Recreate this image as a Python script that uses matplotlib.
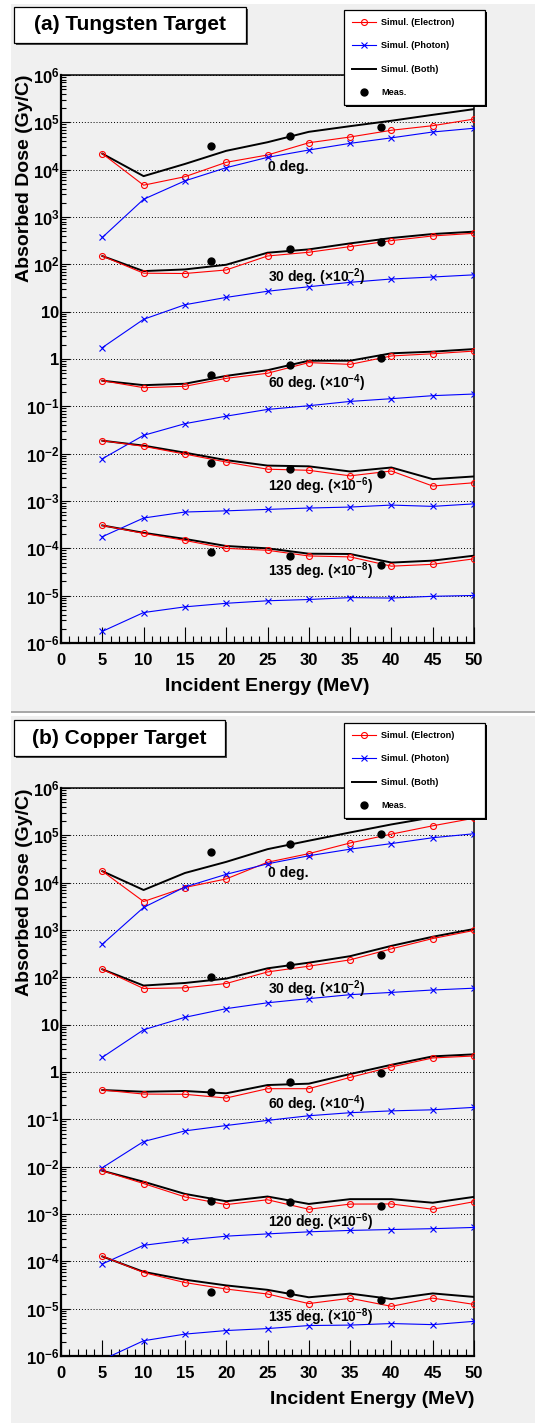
import numpy as np
import matplotlib
matplotlib.use('Agg')
import matplotlib.pyplot as plt
from matplotlib.patches import Rectangle
from matplotlib.ticker import FixedLocator, FixedFormatter, MultipleLocator, LogLocator, NullFormatter

plt.rcParams['font.family'] = ['Liberation Sans', 'DejaVu Sans']
plt.rcParams['mathtext.fontset'] = 'custom'
plt.rcParams['mathtext.rm'] = 'Liberation Sans:bold'
plt.rcParams['mathtext.bf'] = 'Liberation Sans:bold'
plt.rcParams['mathtext.it'] = 'Liberation Sans:bold:italic'
plt.rcParams['mathtext.sf'] = 'Liberation Sans:bold'

# Энергии (МэВ)
energy = [5, 10, 15, 20, 25, 30, 35, 40, 45, 50]
energy_meas = [18.2, 27.7, 38.7]
angles = [0, 30, 60, 120, 135]
scale_exp = [0, -2, -4, -6, -8]

# (a) вольфрамовая мишень, строки по углам 0, 30, 60, 120, 135 (уже с множителем)
w_electron = [
    [2.18e4, 4.7e3, 7.1e3, 1.43e4, 2.04e4, 3.7e4, 4.9e4, 6.8e4, 8.5e4, 1.17e5],
    [150, 65, 64, 76, 150, 180, 237, 317, 398, 452],
    [0.348, 0.248, 0.265, 0.39, 0.50, 0.84, 0.77, 1.16, 1.29, 1.47],
    [1.88e-2, 1.43e-2, 9.8e-3, 6.65e-3, 4.7e-3, 4.45e-3, 3.4e-3, 4.3e-3, 2.07e-3, 2.43e-3],
    [3.05e-4, 2.07e-4, 1.47e-4, 1.0e-4, 9.1e-5, 6.9e-5, 6.6e-5, 4.2e-5, 4.6e-5, 6.0e-5],
]
w_photon = [
    [3.7e2, 2.37e3, 5.8e3, 1.1e4, 1.82e4, 2.6e4, 3.6e4, 4.7e4, 6.25e4, 7.5e4],
    [1.74, 6.9, 14, 20, 27, 33.6, 41.7, 49, 54, 60],
    [7.8e-3, 2.44e-2, 0.043, 0.062, 0.086, 0.103, 0.127, 0.145, 0.168, 0.182],
    [1.76e-4, 4.37e-4, 5.85e-4, 6.2e-4, 6.65e-4, 7.1e-4, 7.45e-4, 8.2e-4, 7.7e-4, 8.7e-4],
    [1.76e-6, 4.4e-6, 5.8e-6, 6.9e-6, 7.8e-6, 8.3e-6, 9.1e-6, 8.9e-6, 9.7e-6, 1.01e-5],
]
w_both = [
    [2.18e4, 7.3e3, 1.32e4, 2.5e4, 3.8e4, 6.3e4, 8.3e4, 1.08e5, 1.44e5, 1.9e5],
    [150, 72, 78, 98, 176, 207, 277, 360, 437, 490],
    [0.348, 0.28, 0.30, 0.44, 0.58, 0.92, 0.92, 1.32, 1.43, 1.62],
    [1.88e-2, 1.48e-2, 1.05e-2, 7.3e-3, 5.6e-3, 5.4e-3, 4.2e-3, 5.1e-3, 2.9e-3, 3.3e-3],
    [3.05e-4, 2.13e-4, 1.58e-4, 1.12e-4, 1.0e-4, 7.7e-5, 7.6e-5, 5.0e-5, 5.5e-5, 7.0e-5],
]
w_meas = [
    [3.2e4, 5.2e4, 8.0e4],
    [115, 207, 295],
    [0.46, 0.75, 1.06],
    [6.2e-3, 4.8e-3, 3.65e-3],
    [8.5e-5, 6.8e-5, 4.4e-5],
]

# (b) медная мишень
c_electron = [
    [1.75e4, 4.0e3, 7.9e3, 1.2e4, 2.7e4, 4.1e4, 6.9e4, 1.06e5, 1.59e5, 2.3e5],
    [148, 58, 60, 74, 130, 172, 234, 400, 660, 980],
    [0.416, 0.342, 0.338, 0.282, 0.444, 0.444, 0.77, 1.28, 1.98, 2.18],
    [8.2e-3, 4.4e-3, 2.3e-3, 1.58e-3, 2.0e-3, 1.26e-3, 1.62e-3, 1.63e-3, 1.26e-3, 1.82e-3],
    [1.29e-4, 5.8e-5, 3.56e-5, 2.6e-5, 2.04e-5, 1.28e-5, 1.66e-5, 1.12e-5, 1.67e-5, 1.23e-5],
]
c_photon = [
    [5.0e2, 3.0e3, 8.1e3, 1.5e4, 2.5e4, 3.7e4, 5.1e4, 6.7e4, 8.9e4, 1.08e5],
    [2.04, 7.8, 14.3, 21.8, 29, 35.5, 43, 48, 54, 59],
    [9.5e-3, 0.034, 0.057, 0.074, 0.095, 0.119, 0.138, 0.151, 0.159, 0.179],
    [8.8e-5, 2.18e-4, 2.8e-4, 3.4e-4, 3.8e-4, 4.2e-4, 4.5e-4, 4.7e-4, 4.9e-4, 5.2e-4],
    [8.3e-7, 2.1e-6, 2.9e-6, 3.45e-6, 3.8e-6, 4.4e-6, 4.5e-6, 4.85e-6, 4.6e-6, 5.4e-6],
]
c_both = [
    [1.75e4, 7.0e3, 1.6e4, 2.75e4, 5.1e4, 7.7e4, 1.15e5, 1.7e5, 2.4e5, 3.4e5],
    [148, 67, 76, 94, 155, 204, 280, 462, 720, 1050],
    [0.416, 0.383, 0.397, 0.355, 0.53, 0.567, 0.905, 1.42, 2.14, 2.36],
    [8.2e-3, 4.8e-3, 2.66e-3, 1.86e-3, 2.34e-3, 1.63e-3, 2.06e-3, 2.06e-3, 1.73e-3, 2.3e-3],
    [1.27e-4, 6.0e-5, 4.1e-5, 3.1e-5, 2.5e-5, 1.74e-5, 2.08e-5, 1.6e-5, 2.1e-5, 1.77e-5],
]
c_meas = [
    [4.4e4, 6.5e4, 1.05e5],
    [100, 178, 300],
    [0.378, 0.605, 0.94],
    [1.9e-3, 1.78e-3, 1.48e-3],
    [2.24e-5, 2.15e-5, 1.53e-5],
]

W, H = 535, 1423
BG = '#f0f0f0'


def fig_box(x0, y0, x1, y1):
    """Пиксели (сверху вниз) -> доли фигуры"""
    return (x0 / W, 1 - y1 / H), (x1 - x0) / W, (y1 - y0) / H


def add_rect(fig, x0, y0, x1, y1, **kw):
    xy, w, h = fig_box(x0, y0, x1, y1)
    fig.add_artist(Rectangle(xy, w, h, transform=fig.transFigure, **kw))


def add_title(fig, text, x0, y0, x1, y1):
    add_rect(fig, x0 + 2, y0 + 2, x1 + 2, y1 + 2, facecolor='0.3', edgecolor='none', zorder=5)
    add_rect(fig, x0, y0, x1, y1, facecolor='white', edgecolor='black', lw=0.9, zorder=6)
    fig.text((x0 + x1) / 2 / W, 1 - (y0 + y1) / 2 / H, text, ha='center', va='center',
             fontsize=15, fontweight='bold', zorder=7)


def draw_panel(ax, elec, phot, both, meas, label_pos, xlabel_right=False):
    handles = None
    for i in range(len(angles)):
        hb, = ax.plot(energy, both[i], color='black', lw=1.4, zorder=3)
        he, = ax.plot(energy, elec[i], color='red', lw=0.8, marker='o', ms=4.3,
                      mfc='none', mec='red', mew=0.8, zorder=4)
        hp, = ax.plot(energy, phot[i], color='blue', lw=0.8, marker='x', ms=4.3,
                      mew=0.8, zorder=4)
        hm, = ax.plot(energy_meas, meas[i], ls='none', marker='o', ms=5,
                      color='black', zorder=5)
        if handles is None:
            handles = [he, hp, hb, hm]

        # подписи углов
        if scale_exp[i] == 0:
            txt = '%d deg.' % angles[i]
        else:
            txt = r'%d deg. ($\times$10$^{%d}$)' % (angles[i], scale_exp[i])
        ax.text(label_pos[i][0], label_pos[i][1], txt, fontsize=10, fontweight='bold',
                ha='left', va='center', zorder=6)

    ax.set_yscale('log')
    ax.set_xlim(0, 50)
    ax.set_ylim(1e-6, 1e6)
    ax.set_facecolor(BG)

    decades = 10.0 ** np.arange(-6, 7)
    ylabels = []
    for e in range(-6, 7):
        if e == 0:
            ylabels.append(r'$\mathbf{1}$')
        elif e == 1:
            ylabels.append(r'$\mathbf{10}$')
        else:
            ylabels.append(r'$\mathbf{10^{%d}}$' % e)
    ax.yaxis.set_major_locator(FixedLocator(decades))
    ax.yaxis.set_major_formatter(FixedFormatter(ylabels))
    ax.yaxis.set_minor_locator(LogLocator(base=10, subs=np.arange(2, 10), numticks=30))
    ax.yaxis.set_minor_formatter(NullFormatter())
    ax.xaxis.set_major_locator(MultipleLocator(5))
    ax.xaxis.set_minor_locator(MultipleLocator(1))

    ax.tick_params(axis='x', which='major', direction='in', length=11.5, width=0.8,
                   labelsize=12, pad=7, top=False)
    ax.tick_params(axis='x', which='minor', direction='in', length=5, width=0.8, top=False)
    ax.tick_params(axis='y', which='major', direction='in', length=6.5, width=0.8,
                   labelsize=12, pad=1, right=False)
    ax.tick_params(axis='y', which='minor', direction='in', length=3.6, width=0.8, right=False)
    for lbl in ax.get_xticklabels():
        lbl.set_fontweight('bold')

    ax.yaxis.grid(True, which='major', color='black', lw=0.7, ls=(0, (1, 2)))
    ax.xaxis.grid(False)

    for side in ['left', 'bottom']:
        ax.spines[side].set_linewidth(1.6)
    for side in ['top', 'right']:
        ax.spines[side].set_linewidth(1.1)

    ax.set_ylabel('Absorbed Dose (Gy/C)', fontsize=14, fontweight='bold', loc='top')
    ax.yaxis.set_label_coords(-0.068, 1.0)
    if xlabel_right:
        ax.set_xlabel('Incident Energy (MeV)', fontsize=14, fontweight='bold', loc='right')
        ax.xaxis.set_label_coords(1.0, -0.062)
    else:
        ax.set_xlabel('Incident Energy (MeV)', fontsize=14, fontweight='bold')
        ax.xaxis.set_label_coords(0.5, -0.062)

    leg = ax.legend(handles, ['Simul. (Electron)', 'Simul. (Photon)', 'Simul. (Both)', 'Meas.'],
                    loc='upper left', bbox_to_anchor=(0.685, 0.0, 0.341, 1.114), mode='expand',
                    borderaxespad=0, prop={'weight': 'bold', 'size': 6.6},
                    handlelength=2.7, handletextpad=0.55, labelspacing=1.57, borderpad=0.85,
                    fancybox=False, framealpha=1, facecolor='white', edgecolor='black',
                    shadow={'ox': 1.6, 'oy': -1.6, 'facecolor': 'black',
                            'edgecolor': 'none', 'alpha': 1.0})
    leg.get_frame().set_linewidth(0.9)
    leg.set_zorder(10)


def main():
    fig = plt.figure(figsize=(W / 100, H / 100), dpi=100)
    fig.patch.set_facecolor('white')

    # фоны двух холстов
    add_rect(fig, 11, 4, 535, 711, facecolor=BG, edgecolor='none', zorder=0)
    add_rect(fig, 11, 711, 535, 713, facecolor='#a8a8a8', edgecolor='none', zorder=0)
    add_rect(fig, 11, 716, 535, 1423, facecolor=BG, edgecolor='none', zorder=0)

    ax1 = fig.add_axes([61 / W, 1 - 643 / H, 413 / W, 568 / H])
    ax2 = fig.add_axes([61 / W, 1 - 1356 / H, 413 / W, 568 / H])

    pos_a = [(25, 1.14e4), (25, 54), (25, 0.31), (25, 2.1e-3), (25, 3.3e-5)]
    pos_b = [(25, 1.6e4), (25, 56), (25, 0.21), (25, 6.6e-4), (25, 6.5e-6)]

    draw_panel(ax1, w_electron, w_photon, w_both, w_meas, pos_a)
    draw_panel(ax2, c_electron, c_photon, c_both, c_meas, pos_b, xlabel_right=True)

    add_title(fig, '(a) Tungsten Target', 14, 7, 246, 43)
    add_title(fig, '(b) Copper Target', 14, 720, 225, 756)

    fig.savefig('out.png', dpi=100, facecolor=fig.get_facecolor())


if __name__ == "__main__":
    main()
